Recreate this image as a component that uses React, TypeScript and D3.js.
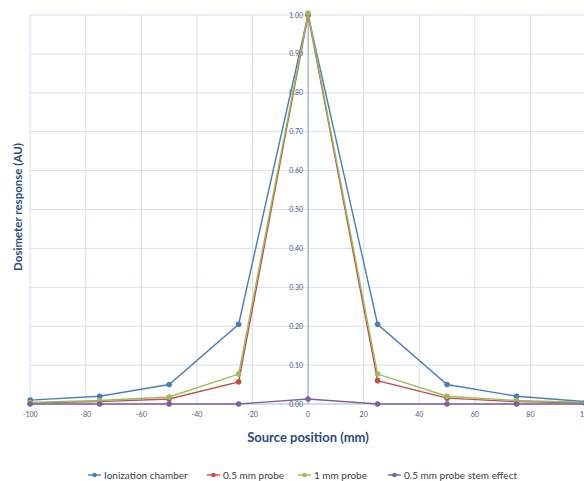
import React from "react";
import * as d3 from "d3";

const positions = [-100, -75, -50, -25, 0, 25, 50, 75, 100];
const ionizationChamber = [0.01, 0.02, 0.05, 0.205, 1.0, 0.205, 0.05, 0.02, 0.006];
const probe05 = [0.003, 0.006, 0.013, 0.057, 1.0, 0.06, 0.015, 0.006, 0.003];
const probe1 = [0.004, 0.009, 0.018, 0.077, 1.005, 0.077, 0.02, 0.009, 0.004];
const stemEffect = [0.0, 0.0, 0.0, 0.0, 0.013, 0.0, 0.0, 0.0, 0.0];

const seriesNames = ["Ionization chamber", "0.5 mm probe", "1 mm probe", "0.5 mm probe stem effect"];
const seriesColors = ["#4a7ebb", "#c0504d", "#9bbb59", "#7d60a0"];
const xTicks = [-100, -80, -60, -40, -20, 0, 20, 40, 60, 80, 100];
const yTicks = [0, 0.1, 0.2, 0.3, 0.4, 0.5, 0.6, 0.7, 0.8, 0.9, 1.0];

const W = 584;
const H = 481;

export default function App() {
  const x = d3.scaleLinear().domain([-100, 100]).range([30.2, 586]);
  const y = d3.scaleLinear().domain([0, 1]).range([404, 15]);
  const seriesData = [ionizationChamber, probe05, probe1, stemEffect];
  const line = d3
    .line<[number, number]>()
    .x((d) => x(d[0]))
    .y((d) => y(d[1]));

  const legendX = [88, 207, 298, 388];
  const legendY = 475;

  return (
    <svg
      width={W}
      height={H}
      style={{ position: "absolute", left: 0, top: 0, background: "#fff" }}
      fontFamily="Lato, 'Open Sans', sans-serif"
    >
      {yTicks.map((t) => (
        <line key={"gy" + t} x1={x(-100)} x2={W} y1={y(t)} y2={y(t)} stroke="#d6e0f0" strokeWidth={1} />
      ))}
      {xTicks.map((t) => (
        <line key={"gx" + t} x1={x(t)} x2={x(t)} y1={y(1)} y2={y(0)} stroke="#d6e0f0" strokeWidth={1} />
      ))}
      <line x1={x(0)} x2={x(0)} y1={y(1)} y2={y(0)} stroke="#8ea6d6" strokeWidth={1} />
      <line x1={x(-100)} x2={W} y1={y(0)} y2={y(0)} stroke="#b8c7e6" strokeWidth={1} />
      {yTicks.map((t) => (
        <text key={"ly" + t} x={x(0) - 5} y={y(t) + 2.5} fontSize={7} fill="#4a5a80" textAnchor="end">
          {t.toFixed(2)}
        </text>
      ))}
      {xTicks.map((t) => (
        <text key={"lx" + t} x={x(t)} y={417} fontSize={7} fill="#4a5a80" textAnchor="middle">
          {t}
        </text>
      ))}
      {seriesData.map((vals, i) => {
        const pts = positions.map((p, j) => [p, vals[j]] as [number, number]);
        return (
          <g key={"s" + i}>
            <path d={line(pts) || ""} fill="none" stroke={seriesColors[i]} strokeWidth={1.4} />
            {pts.map((d, j) => (
              <circle key={j} cx={x(d[0])} cy={y(d[1])} r={2.8} fill={seriesColors[i]} />
            ))}
          </g>
        );
      })}
      <text x={308} y={442} fontSize={13} fontWeight="bold" fill="#2c4a7e" textAnchor="middle">
        Source position (mm)
      </text>
      <text
        transform={`translate(22, 207) rotate(-90)`}
        fontSize={11.5}
        fontWeight="bold"
        fill="#2c4a7e"
        textAnchor="middle"
      >
        Dosimeter response (AU)
      </text>
      {seriesNames.map((n, i) => (
        <g key={"lg" + i} transform={`translate(${legendX[i]}, ${legendY})`}>
          <line x1={0} x2={13} y1={0} y2={0} stroke={seriesColors[i]} strokeWidth={1.4} />
          <circle cx={6.5} cy={0} r={2.3} fill={seriesColors[i]} />
          <text x={16} y={3.5} fontSize={10} fill="#404040">
            {n}
          </text>
        </g>
      ))}
    </svg>
  );
}
